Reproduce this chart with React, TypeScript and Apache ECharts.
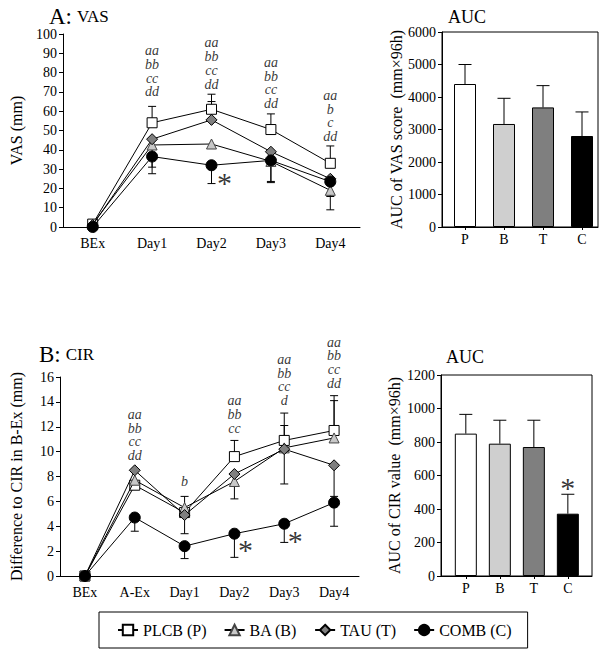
import React, { useEffect, useRef } from "react";
import * as echarts from "echarts";

const FONT = "Liberation Serif, Times New Roman, serif";

// ---- Panel A: VAS ----
const vasCats = ["BEx", "Day1", "Day2", "Day3", "Day4"];
const vasP = [1.5, 54, 61, 50.5, 33];
const vasB = [1.5, 42.5, 43, 34, 19];
const vasT = [1, 45.5, 55.5, 39, 25];
const vasC = [0, 36.5, 32, 34.5, 23.5];
const vasPUpper = [null, 62.5, 68.8, 58.6, 42];
const vasTUpper = [null, null, 65, null, null];
const vasBLower = [null, 31, null, 23.6, 15.8];
const vasCLower = [null, 27.6, 22.5, 23, 8.9];
const vasNotes = ["", "aa\nbb\ncc\ndd", "aa\nbb\ncc\ndd", "aa\nbb\ncc\ndd", "aa\nb\nc\ndd"];
const vasNoteY = [0, 80.6, 84.7, 74.6, 57.5];

// ---- Panel B: CIR ----
const cirCats = ["BEx", "A-Ex", "Day1", "Day2", "Day3", "Day4"];
const cirP = [0, 7.3, 5.1, 9.6, 10.9, 11.7];
const cirB = [0, 7.7, 5.5, 7.6, 10.3, 11.1];
const cirT = [0, 8.5, 4.9, 8.2, 10.2, 8.9];
const cirC = [0, 4.7, 2.4, 3.4, 4.2, 5.9];
const cirPUpper = [null, null, null, 10.9, 13.1, 14.5];
const cirBUpper = [null, null, 6.4, null, 12.1, 14.1];
const cirBLower = [null, null, null, 6.2, null, null];
const cirTLower = [null, null, 3.4, null, 7.4, 6.4];
const cirCLower = [null, 3.6, 1.4, 1.5, 2.7, 4.0];
const cirNotes = ["", "aa\nbb\ncc\ndd", "b", "aa\nbb\ncc", "aa\nbb\ncc\nd", "aa\nbb\ncc\ndd"];
const cirNoteY = [0, 11.33, 7.56, 13.0, 15.76, 17.16];

// ---- AUC ----
const aucCats = ["P", "B", "T", "C"];
const vasAuc = [4400, 3170, 3680, 2800];
const vasAucErr = [5000, 3960, 4350, 3540];
const cirAuc = [850, 790, 770, 372];
const cirAucErr = [965, 930, 930, 488];

const groupNames = ["PLCB (P)", "BA (B)", "TAU (T)", "COMB (C)"];
const groupSymbols = ["rect", "triangle", "diamond", "circle"];
const groupFills = ["#ffffff", "#c8c8c8", "#7f7f7f", "#000000"];
const barFills = ["#ffffff", "#cfcfcf", "#7f7f7f", "#000000"];

function errItems(means: number[], ends: (number | null)[]) {
  const out: number[][] = [];
  ends.forEach((e, i) => {
    if (e !== null) out.push([i, means[i], e]);
  });
  return out;
}

function errSeries(idx: number, data: number[][], cap: number) {
  return {
    type: "custom",
    xAxisIndex: idx,
    yAxisIndex: idx,
    z: 1,
    silent: true,
    clip: false,
    data,
    renderItem: (params: any, api: any) => {
      const a = api.coord([api.value(0), api.value(1)]);
      const b = api.coord([api.value(0), api.value(2)]);
      return {
        type: "group",
        children: [
          { type: "line", shape: { x1: a[0], y1: a[1], x2: b[0], y2: b[1] }, style: { stroke: "#000", lineWidth: 1 } },
          { type: "line", shape: { x1: b[0] - cap, y1: b[1], x2: b[0] + cap, y2: b[1] }, style: { stroke: "#000", lineWidth: 1 } },
        ],
      };
    },
  };
}

function lineSeries(idx: number, g: number, data: number[]) {
  return {
    type: "line",
    name: groupNames[g],
    xAxisIndex: idx,
    yAxisIndex: idx,
    data,
    z: 3 + g,
    symbol: groupSymbols[g],
    symbolSize: g === 3 ? 11 : g === 2 ? 11 : 10,
    lineStyle: { color: "#000", width: 1 },
    itemStyle: { color: groupFills[g], borderColor: g === 1 ? "#444" : "#000", borderWidth: 1, opacity: 1 },
    emphasis: { disabled: true },
  };
}

function noteSeries(idx: number, cats: string[], notes: string[], ys: number[]) {
  return {
    type: "scatter",
    xAxisIndex: idx,
    yAxisIndex: idx,
    silent: true,
    clip: false,
    symbolSize: 1,
    itemStyle: { color: "transparent" },
    z: 10,
    data: notes.map((n, i) => ({ value: [cats[i], ys[i]], note: n })).filter((d) => d.note !== ""),
    label: {
      show: true,
      position: "inside",
      formatter: (p: any) => p.data.note,
      fontFamily: FONT,
      fontStyle: "italic",
      fontSize: 14,
      lineHeight: 13.7,
      color: "#000",
      textBorderWidth: 0,
    },
  };
}

function starSeries(idx: number, points: any[], dx: number, dy: number) {
  return {
    type: "scatter",
    xAxisIndex: idx,
    yAxisIndex: idx,
    silent: true,
    clip: false,
    symbolSize: 1,
    itemStyle: { color: "transparent" },
    z: 10,
    data: points,
    label: {
      show: true,
      position: "inside",
      offset: [dx, dy],
      formatter: "*",
      fontFamily: FONT,
      fontSize: 30,
      color: "#000",
      textBorderWidth: 0,
    },
  };
}

const axisText = { fontFamily: FONT, color: "#000" };

function catX(idx: number, cats: string[]) {
  return {
    type: "category",
    gridIndex: idx,
    data: cats,
    boundaryGap: true,
    axisLine: { lineStyle: { color: "#000", width: 1 } },
    axisTick: { alignWithLabel: true, length: 4, lineStyle: { color: "#000" } },
    axisLabel: { ...axisText, fontSize: 14, margin: 9 },
    splitLine: { show: false },
  };
}

function valY(idx: number, max: number, interval: number, name: string, gap: number, fontSize: number) {
  return {
    type: "value",
    gridIndex: idx,
    min: 0,
    max,
    interval,
    name,
    nameLocation: "middle",
    nameGap: gap,
    nameRotate: 90,
    nameTextStyle: { ...axisText, fontSize },
    axisLine: { show: true, onZero: false, lineStyle: { color: "#000", width: 1 } },
    axisTick: { show: true, length: 4, lineStyle: { color: "#000" } },
    axisLabel: { ...axisText, fontSize: 14, margin: 6, formatter: (v: number) => String(v) },
    splitLine: { show: false },
  };
}

function barX(idx: number, min: number, max: number) {
  return {
    type: "value",
    gridIndex: idx,
    min,
    max,
    axisLine: { onZero: false, lineStyle: { color: "#000", width: 1 } },
    axisTick: { show: true, length: 3, customValues: [0, 1, 2, 3], lineStyle: { color: "#000" } },
    axisLabel: {
      ...axisText,
      fontSize: 14,
      margin: 5,
      customValues: [0, 1, 2, 3],
      formatter: (v: number) => aucCats[Math.round(v)] ?? "",
    },
    splitLine: { show: false },
  };
}

function barSeries(idx: number, vals: number[]) {
  return {
    type: "bar",
    xAxisIndex: idx,
    yAxisIndex: idx,
    barWidth: 22,
    z: 2,
    data: vals.map((v, i) => ({
      value: [i, v],
      itemStyle: { color: barFills[i], borderColor: "#000", borderWidth: 1 },
    })),
  };
}

const titleRich = {
  a: { fontFamily: FONT, fontSize: 23, fontWeight: "normal", color: "#000" },
  b: { fontFamily: FONT, fontSize: 17, fontWeight: "normal", color: "#000", padding: [0, 0, 0, 5] },
};

export default function App() {
  const ref = useRef<HTMLDivElement>(null);
  useEffect(() => {
    if (!ref.current) return;
    const chart = echarts.init(ref.current, null, { renderer: "svg" });
    const option: any = {
      animation: false,
      backgroundColor: "#fff",
      textStyle: { fontFamily: FONT, color: "#000" },
      title: [
        {
          text: "{a|A:}{b|VAS}",
          left: 44,
          top: 0,
          textStyle: { fontWeight: "normal", fontFamily: FONT, rich: titleRich },
        },
        { text: "AUC", left: 443, top: 3, textStyle: { fontFamily: FONT, fontSize: 18, fontWeight: "normal", color: "#000" } },
        {
          text: "{a|B:}{b|CIR}",
          left: 34,
          top: 338,
          textStyle: { fontWeight: "normal", fontFamily: FONT, rich: titleRich },
        },
        { text: "AUC", left: 441, top: 343, textStyle: { fontFamily: FONT, fontSize: 18, fontWeight: "normal", color: "#000" } },
      ],
      legend: {
        data: groupNames,
        left: 99,
        top: 612,
        orient: "horizontal",
        selectedMode: false,
        borderColor: "#000",
        borderWidth: 1,
        padding: [10, 16, 10, 18],
        itemGap: 17,
        itemWidth: 20,
        itemHeight: 13,
        textStyle: { fontFamily: FONT, fontSize: 16, color: "#000" },
      },
      grid: [
        { left: 52, top: 34, width: 308, height: 193 },
        { left: 442, top: 32, width: 156, height: 195, show: true, borderColor: "#000", borderWidth: 1, backgroundColor: "transparent" },
        { left: 50, top: 377, width: 309, height: 199 },
        { left: 441, top: 375, width: 151, height: 201, show: true, borderColor: "#000", borderWidth: 1, backgroundColor: "transparent" },
      ],
      xAxis: [catX(0, vasCats), barX(1, -0.59, 3.41), catX(2, cirCats), barX(3, -0.73, 3.71)],
      yAxis: [
        valY(0, 100, 10, "VAS (mm)", 39, 16),
        valY(1, 6000, 1000, "AUC of VAS score  (mm\u00d796h)", 36, 16),
        valY(2, 16, 2, "Difference to CIR in B-Ex (mm)", 36, 16),
        valY(3, 1200, 200, "AUC of CIR value  (mm\u00d796h)", 39, 16),
      ],
      series: [
        errSeries(0, [
          ...errItems(vasP, vasPUpper),
          ...errItems(vasT, vasTUpper),
          ...errItems(vasB, vasBLower),
          ...errItems(vasC, vasCLower),
        ], 4),
        lineSeries(0, 0, vasP),
        lineSeries(0, 1, vasB),
        lineSeries(0, 2, vasT),
        lineSeries(0, 3, vasC),
        noteSeries(0, vasCats, vasNotes, vasNoteY),
        starSeries(0, [["Day2", 24.5]], 13, 3),

        barSeries(1, vasAuc),
        errSeries(1, errItems(vasAuc, vasAucErr), 6.5),

        errSeries(2, [
          ...errItems(cirP, cirPUpper),
          ...errItems(cirB, cirBUpper),
          ...errItems(cirB, cirBLower),
          ...errItems(cirT, cirTLower),
          ...errItems(cirC, cirCLower),
        ], 4),
        lineSeries(2, 0, cirP),
        lineSeries(2, 1, cirB),
        lineSeries(2, 2, cirT),
        lineSeries(2, 3, cirC),
        noteSeries(2, cirCats, cirNotes, cirNoteY),
        starSeries(2, [["Day2", 2.33], ["Day3", 3.05]], 11, 2),

        barSeries(3, cirAuc),
        errSeries(3, errItems(cirAuc, cirAucErr), 6.5),
        starSeries(3, [[3, 545]], 0, 3),
      ],
    };
    chart.setOption(option);
    return () => chart.dispose();
  }, []);
  return <div ref={ref} style={{ width: 600, height: 651, position: "absolute", left: 0, top: 0 }} />;
}
